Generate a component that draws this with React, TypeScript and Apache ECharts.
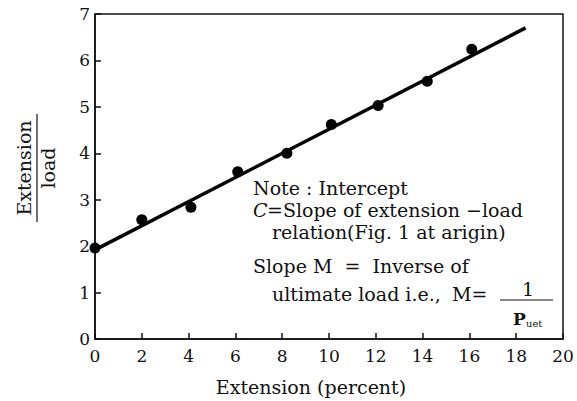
import React, { useEffect, useRef } from "react";
import * as echarts from "echarts";

const pointX = [0, 2, 4.1, 6.1, 8.2, 10.1, 12.1, 14.2, 16.1];
const pointY = [1.96, 2.57, 2.84, 3.6, 4.0, 4.62, 5.03, 5.55, 6.24];
const fitX = [0, 18.4];
const fitY = [1.92, 6.7];
const xTicks = [0, 2, 4, 6, 8, 10, 12, 14, 16, 18, 20];
const yTicks = [0, 1, 2, 3, 4, 5, 6, 7];
const noteLines = [
  "Note : Intercept",
  "C=Slope of extension \u2212load",
  "relation(Fig. 1 at arigin)",
  "Slope M  =  Inverse of",
  "ultimate load i.e.,",
  "M=",
];

const FONT = "'DejaVu Serif', 'Liberation Serif', serif";

export default function App() {
  const ref = useRef<HTMLDivElement>(null);
  useEffect(() => {
    if (!ref.current) return;
    const chart = echarts.init(ref.current, null, { renderer: "svg" });
    const txt = (x: number, y: number, text: string, extra: any = {}) => ({
      type: "text",
      x,
      y,
      style: {
        text,
        font: `19px ${FONT}`,
        fill: "#111",
        textVerticalAlign: "middle",
        ...extra,
      },
    });
    chart.setOption({
      animation: false,
      backgroundColor: "#fff",
      grid: {
        left: 95,
        right: 14,
        top: 14,
        bottom: 62,
        show: true,
        borderColor: "#111",
        borderWidth: 1.5,
        backgroundColor: "transparent",
      },
      xAxis: {
        type: "value",
        min: xTicks[0],
        max: xTicks[xTicks.length - 1],
        interval: 2,
        axisLine: { lineStyle: { color: "#111", width: 1.5 } },
        axisTick: { inside: true, length: 6, lineStyle: { color: "#111", width: 1.5 } },
        axisLabel: { color: "#111", fontFamily: FONT, fontSize: 17, margin: 8 },
        splitLine: { show: false },
      },
      yAxis: {
        type: "value",
        min: yTicks[0],
        max: yTicks[yTicks.length - 1],
        interval: 1,
        axisLine: { lineStyle: { color: "#111", width: 1.5 } },
        axisTick: { inside: true, length: 6, lineStyle: { color: "#111", width: 1.5 } },
        axisLabel: { color: "#111", fontFamily: FONT, fontSize: 17, margin: 5 },
        splitLine: { show: false },
      },
      series: [
        {
          type: "line",
          data: fitX.map((x, i) => [x, fitY[i]]),
          showSymbol: false,
          lineStyle: { color: "#000", width: 3.5 },
          clip: false,
          z: 3,
        },
        {
          type: "scatter",
          data: pointX.map((x, i) => [x, pointY[i]]),
          symbol: "circle",
          symbolSize: 11,
          itemStyle: { color: "#000", opacity: 1 },
          clip: false,
          z: 4,
        },
      ],
      graphic: [
        txt(253, 188, noteLines[0]),
        txt(253, 210, "C", { font: `italic 19px ${FONT}` }),
        txt(267, 210, noteLines[1].slice(1)),
        txt(272, 232, noteLines[2]),
        txt(253, 266, noteLines[3]),
        txt(272, 294, noteLines[4]),
        txt(452, 294, noteLines[5]),
        txt(528, 289, "1", { textAlign: "center" }),
        {
          type: "line",
          shape: { x1: 500, y1: 300, x2: 553, y2: 300 },
          style: { stroke: "#111", lineWidth: 1.2 },
        },
        txt(513, 319, "P", { font: `bold 17px ${FONT}` }),
        txt(526, 323, "uet", { font: `10px ${FONT}` }),
        txt(311, 387, "Extension (percent)", { textAlign: "center", font: `19px ${FONT}` }),
        {
          type: "group",
          x: 37,
          y: 168,
          rotation: Math.PI / 2,
          children: [
            txt(0, -13, "Extension", { textAlign: "center" }),
            {
              type: "line",
              shape: { x1: -54, y1: 0, x2: 54, y2: 0 },
              style: { stroke: "#111", lineWidth: 1.2 },
            },
            txt(0, 11, "load", { textAlign: "center" }),
          ],
        },
      ],
    });
    return () => chart.dispose();
  }, []);
  return (
    <div
      ref={ref}
      style={{ position: "absolute", left: 0, top: 0, width: 577, height: 401 }}
    />
  );
}
